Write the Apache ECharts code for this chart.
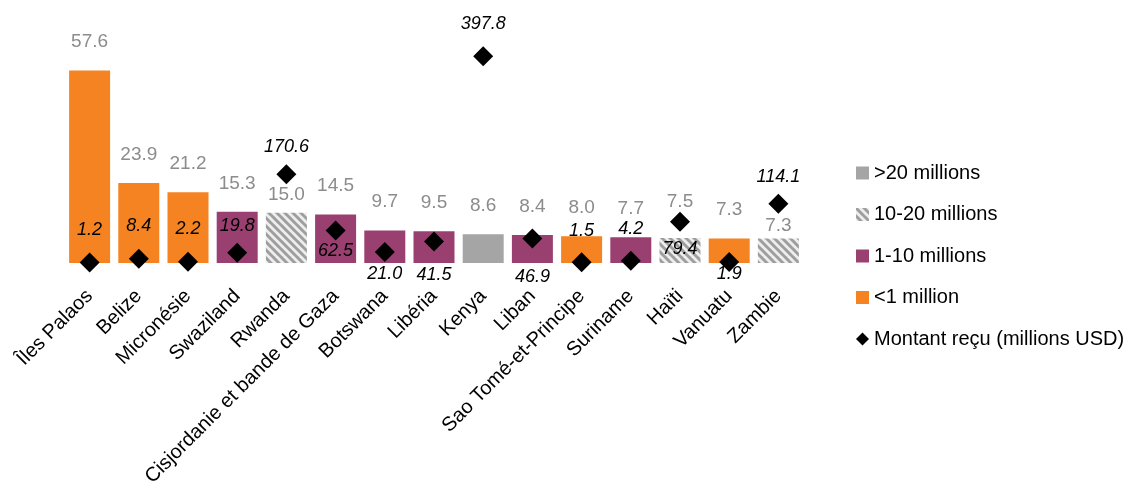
<!DOCTYPE html>
<html><head><meta charset="utf-8">
<script src="https://cdn.jsdelivr.net/npm/echarts@6/dist/echarts.min.js"></script>
<style>html,body{margin:0;padding:0;background:#fff}#c{width:1135px;height:482px}</style>
</head><body><div id="c"></div>
<script>
// ---- data ----
const countries = ['Îles Palaos','Belize','Micronésie','Swaziland','Rwanda','Cisjordanie et bande de Gaza','Botswana','Libéria','Kenya','Liban','Sao Tomé-et-Principe','Suriname','Haïti','Vanuatu','Zambie'];
const perCapita = [57.6, 23.9, 21.2, 15.3, 15.0, 14.5, 9.7, 9.5, 8.6, 8.4, 8.0, 7.7, 7.5, 7.3, 7.3];
const received = [1.2, 8.4, 2.2, 19.8, 170.6, 62.5, 21.0, 41.5, 397.8, 46.9, 1.5, 4.2, 79.4, 1.9, 114.1];
const popGroup = ['<1 million','<1 million','<1 million','1-10 millions','10-20 millions','1-10 millions','1-10 millions','1-10 millions','>20 millions','1-10 millions','<1 million','1-10 millions','10-20 millions','<1 million','10-20 millions'];
const groupNames = ['>20 millions','10-20 millions','1-10 millions','<1 million'];
const receivedName = 'Montant reçu (millions USD)';

// ---- style / layout (not data) ----
const barLabelDy = [0,0,0,0,10,0,0,0,0,0,0,0,-8,0,16];
const diamondLabelDy = [-32,-33,-33,-27,-27,20,22,34,-32,38,-31,-32,27,12,-27];
const FONT = "'Liberation Sans', Arial, sans-serif";

function hatch() {
  const s = 8, c = document.createElement('canvas');
  c.width = s; c.height = s;
  const g = c.getContext('2d');
  g.fillStyle = '#eeeeee'; g.fillRect(0, 0, s, s);
  g.strokeStyle = '#9e9e9e'; g.lineWidth = 3;
  for (const k of [-s, 0, s]) {
    g.beginPath(); g.moveTo(k - 1, -1); g.lineTo(k + s + 1, s + 1); g.stroke();
  }
  return { image: c, repeat: 'repeat' };
}
const groupColors = {
  '>20 millions': '#a5a5a5',
  '10-20 millions': hatch(),
  '1-10 millions': '#9a4071',
  '<1 million': '#f58322'
};

const barSeries = groupNames.map(name => ({
  name, type: 'bar', stack: 'pc', barWidth: 41,
  itemStyle: { color: groupColors[name] },
  data: perCapita.map((v, i) => popGroup[i] === name ? {
    value: v,
    label: { offset: [0, barLabelDy[i]] }
  } : '-'),
  label: {
    show: true, position: 'top', distance: 19,
    color: '#8c8c8c', fontSize: 19, fontFamily: FONT,
    formatter: p => p.value.toFixed(1)
  }
}));

const scatter = {
  name: receivedName, type: 'scatter', yAxisIndex: 1,
  symbol: 'diamond', symbolSize: 20, z: 5,
  itemStyle: { color: '#000', opacity: 1 },
  data: received.map((v, i) => ({ value: v, label: { offset: [0, diamondLabelDy[i]] } })),
  label: {
    show: true, position: 'inside', color: '#000', fontSize: 18,
    fontStyle: 'italic', fontFamily: FONT,
    formatter: p => p.value.toFixed(1)
  }
};

const chart = echarts.init(document.getElementById('c'), null, { renderer: 'canvas' });
chart.setOption({
  animation: false,
  backgroundColor: '#fff',
  textStyle: { fontFamily: FONT },
  grid: { left: 65, width: 738, top: 29, height: 234, containLabel: false, outerBoundsMode: 'none' },
  legend: {
    orient: 'vertical', left: 851, top: 158, itemGap: 21.5,
    itemWidth: 13, itemHeight: 13,
    textStyle: { fontSize: 20, color: '#000', fontFamily: FONT },
    data: [
      { name: '>20 millions', icon: 'rect' },
      { name: '10-20 millions', icon: 'rect' },
      { name: '1-10 millions', icon: 'rect' },
      { name: '<1 million', icon: 'rect' },
      { name: receivedName, icon: 'diamond', itemStyle: { opacity: 1, color: '#000' } }
    ]
  },
  xAxis: {
    type: 'category', data: countries,
    axisLine: { show: false }, axisTick: { show: false },
    axisLabel: { interval: 0, rotate: 45, fontSize: 20, color: '#000', margin: 30, fontFamily: FONT }
  },
  yAxis: [
    { type: 'value', min: 0, max: 70, show: false, splitLine: { show: false } },
    { type: 'value', min: 0, max: 450, show: false, splitLine: { show: false } }
  ],
  series: [...barSeries, scatter]
});
</script>
</body></html>
